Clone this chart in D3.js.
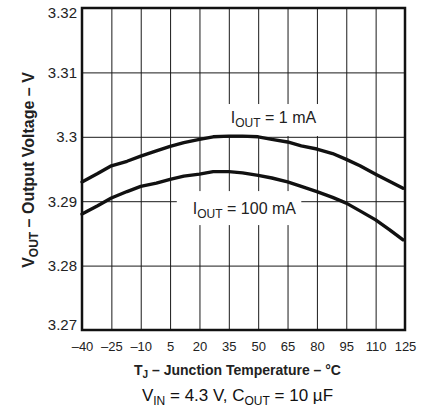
<!DOCTYPE html>
<html>
<head>
<meta charset="utf-8">
<script src="https://cdn.jsdelivr.net/npm/d3@7"></script>
<style>
    body { margin: 0; background: #fff; }
    svg { display: block; font-family: "Liberation Sans", Arial, Helvetica, sans-serif; }
</style>
</head>
<body>
<div id="chart"></div>
<script>
// ---- data
const tempTicks = [-40, -25, -10, 5, 20, 35, 50, 65, 80, 95, 110, 125];
const tempTickLabels = ['–40', '–25', '–10', '5', '20', '35', '50', '65', '80', '95', '110', '125'];
const voltTicks = [3.27, 3.28, 3.29, 3.30, 3.31, 3.32];
const voltTickLabels = ['3.27', '3.28', '3.29', '3.3', '3.31', '3.32'];

const tempPoints = [-40, -32, -25, -17, -10, -2, 5, 12, 20, 27, 35, 42, 50, 57, 65, 72, 80, 88, 95, 102, 110, 117, 124];
const vout1mA = [3.2930, 3.2943, 3.2955, 3.2962, 3.2970, 3.2978, 3.2985, 3.2991, 3.2996, 3.3000, 3.3001, 3.3001,
    3.3000, 3.2996, 3.2992, 3.2986, 3.2981, 3.2974, 3.2965, 3.2955, 3.2942, 3.2931, 3.2920];
const vout100mA = [3.2880, 3.2893, 3.2905, 3.2915, 3.2923, 3.2928, 3.2934, 3.2939, 3.2942, 3.2946, 3.2946, 3.2944,
    3.2940, 3.2936, 3.2930, 3.2923, 3.2915, 3.2906, 3.2897, 3.2885, 3.2871, 3.2856, 3.2840];

// curve labels: [main, sub, rest], anchor in data units
const curveLabels = [
    { parts: ['I', 'OUT', ' = 1 mA'], t: 36, v: 3.30214, pad: [7, 4, 5, 6] },
    { parts: ['I', 'OUT', ' = 100 mA'], t: 16.6, v: 3.288, pad: [16, 5, 9, 4] }
];

(function () {
    const W = 423, H = 412;
    const margin = { top: 8, right: 18, bottom: 82, left: 82 };
    const width = W - margin.left - margin.right;
    const height = H - margin.top - margin.bottom;

    const x = d3.scaleLinear().domain([-40, 125]).range([0, width]);
    const y = d3.scaleLinear().domain([3.27, 3.32]).range([height, 0]);

    const svg = d3.select('#chart')
        .append('svg')
        .attr('width', W)
        .attr('height', H)
        .append('g')
        .attr('transform', `translate(${margin.left}, ${margin.top})`);

    // grid
    svg.append('g')
        .attr('class', 'grid-x')
        .attr('transform', `translate(0, ${height})`)
        .call(d3.axisBottom(x).tickValues(tempTicks).tickSize(-height).tickFormat(''))
        .call(g => g.select('.domain').remove());

    svg.append('g')
        .attr('class', 'grid-y')
        .call(d3.axisLeft(y).tickValues(voltTicks).tickSize(-width).tickFormat(''))
        .call(g => g.select('.domain').remove());

    svg.selectAll('.grid-x line, .grid-y line')
        .attr('stroke', '#1a1a1a')
        .attr('stroke-width', 1);

    // x tick labels
    const xAxis = svg.append('g')
        .attr('transform', `translate(0, ${height})`)
        .call(d3.axisBottom(x).tickValues(tempTicks).tickSize(0).tickPadding(12)
            .tickFormat((d, i) => tempTickLabels[i]));
    xAxis.select('.domain').remove();
    xAxis.selectAll('text')
        .attr('fill', '#222')
        .style('font-size', '13px');

    // y tick labels
    const yAxis = svg.append('g')
        .call(d3.axisLeft(y).tickValues(voltTicks).tickSize(0).tickPadding(5)
            .tickFormat((d, i) => voltTickLabels[i]));
    yAxis.select('.domain').remove();
    yAxis.selectAll('text')
        .attr('fill', '#222')
        .style('font-size', '15px')
        .attr('dy', (d, i) => i === 0 ? '-0.05em' : (i === voltTicks.length - 1 ? '0.6em' : '0.32em'));

    // curve labels with white boxes that cut the grid
    curveLabels.forEach(l => {
        const g = svg.append('g');
        const txt = g.append('text')
            .attr('x', x(l.t))
            .attr('y', y(l.v))
            .attr('fill', '#222')
            .style('font-size', '16px');
        txt.append('tspan').text(l.parts[0]);
        txt.append('tspan').attr('dy', 4).style('font-size', '12px').text(l.parts[1]);
        txt.append('tspan').attr('dy', -4).text(l.parts[2]);
        const bb = txt.node().getBBox();
        g.insert('rect', 'text')
            .attr('x', bb.x - l.pad[0])
            .attr('y', bb.y - l.pad[2])
            .attr('width', bb.width + l.pad[0] + l.pad[1])
            .attr('height', bb.height + l.pad[2] + l.pad[3])
            .attr('fill', '#fff');
    });

    // curves
    const line = d3.line()
        .x(d => x(d[0]))
        .y(d => y(d[1]));

    [vout1mA, vout100mA].forEach(vals => {
        svg.append('path')
            .datum(tempPoints.map((t, i) => [t, vals[i]]))
            .attr('fill', 'none')
            .attr('stroke', '#111')
            .attr('stroke-width', 3.4)
            .attr('stroke-linejoin', 'round')
            .attr('stroke-linecap', 'round')
            .attr('d', line);
    });

    // frame
    svg.append('rect')
        .attr('width', width)
        .attr('height', height)
        .attr('fill', 'none')
        .attr('stroke', '#111')
        .attr('stroke-width', 2.5);

    // y title
    const yt = svg.append('text')
        .attr('transform', `translate(${34 - margin.left}, ${height / 2 + 1}) rotate(-90)`)
        .attr('text-anchor', 'middle')
        .attr('fill', '#222')
        .style('font-size', '16px')
        .style('font-weight', 'bold');
    yt.append('tspan').text('V');
    yt.append('tspan').attr('dy', 4).style('font-size', '12px').text('OUT');
    yt.append('tspan').attr('dy', -4).text(' – Output Voltage – V');

    // x title
    const xt = svg.append('text')
        .attr('x', width / 2 - 6)
        .attr('y', height + 45)
        .attr('text-anchor', 'middle')
        .attr('fill', '#222')
        .style('font-size', '14px')
        .style('font-weight', 'bold');
    xt.append('tspan').text('T');
    xt.append('tspan').attr('dy', 3).style('font-size', '10px').text('J');
    xt.append('tspan').attr('dy', -3).text(' – Junction Temperature – °C');

    // conditions
    const ct = svg.append('text')
        .attr('x', width / 2 - 6)
        .attr('y', height + 71)
        .attr('text-anchor', 'middle')
        .attr('fill', '#111')
        .style('font-size', '17px');
    ct.append('tspan').text('V');
    ct.append('tspan').attr('dy', 4).style('font-size', '12px').text('IN');
    ct.append('tspan').attr('dy', -4).text(' = 4.3 V, C');
    ct.append('tspan').attr('dy', 4).style('font-size', '12px').text('OUT');
    ct.append('tspan').attr('dy', -4).text(' = 10 µF');
})();
</script>
</body>
</html>
